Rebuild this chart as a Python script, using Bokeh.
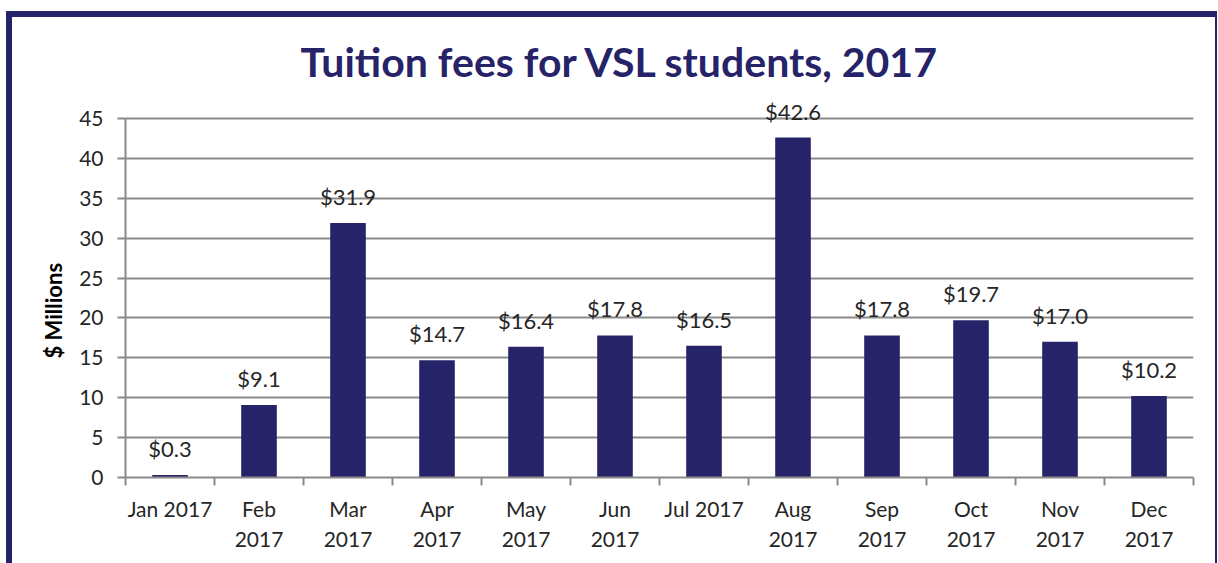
from bokeh.plotting import figure
from bokeh.models import ColumnDataSource, Range1d, FixedTicker, LabelSet, Column, Title
from bokeh.core.properties import value
from bokeh.embed import file_html
from bokeh.resources import INLINE

# ---- data ----
months = ["Jan 2017", "Feb\n2017", "Mar\n2017", "Apr\n2017", "May\n2017", "Jun\n2017",
          "Jul 2017", "Aug\n2017", "Sep\n2017", "Oct\n2017", "Nov\n2017", "Dec\n2017"]
values = [0.3, 9.1, 31.9, 14.7, 16.4, 17.8, 16.5, 42.6, 17.8, 19.7, 17.0, 10.2]
y_ticks = [0, 5, 10, 15, 20, 25, 30, 35, 40, 45]
title_text = "Tuition fees for VSL students, 2017"
y_label = "$ Millions"

NAVY = "#262368"
GRID = "#8a8a8a"
TXT = "#262626"
FONT = "Lato"

# wrapper offset (outer frame drawn with CSS)
OX, OY = 12, 17
W, H = 1218 - OX - 3, 563 - OY
# frame edges in canvas px
FL, FR, FB = 125, 1193, 477
PX_PER_UNIT = (477 - 118) / 45.0
Y_END = 48
FT = FB - Y_END * PX_PER_UNIT

centers = [i + 0.5 for i in range(len(values))]
bounds = list(range(len(values) + 1))
src = ColumnDataSource(dict(x=centers, top=values,
                            lab=["$%.1f" % v for v in values]))

p = figure(width=W, height=H, output_backend="svg", toolbar_location=None,
           x_range=Range1d(0, len(values)), y_range=Range1d(0, Y_END),
           min_border_left=FL - OX, min_border_right=W - (FR - OX),
           min_border_top=int(round(FT - OY)), min_border_bottom=H - (FB - OY))
p.background_fill_color = "white"
p.border_fill_color = "white"
p.outline_line_color = None

p.title.text = title_text
p.title.align = "left"
p.title.offset = 300 - FL
p.title.text_font = FONT
p.title.text_font_style = "bold"
p.title.text_font_size = "41px"
p.title.text_color = NAVY
p.title.standoff = 17

p.vbar(x="x", top="top", width=0.4, bottom=0, source=src, fill_color=NAVY,
       line_color=None)

p.add_layout(LabelSet(x="x", y="top", text="lab", source=src, y_offset=13,
                      text_align="center", text_baseline="bottom",
                      text_font=value(FONT), text_font_size="22px", text_color=TXT))

# y axis
ya = p.yaxis[0]
ya.ticker = FixedTicker(ticks=y_ticks)
ya.bounds = (0, 45)
ya.axis_line_color = GRID
ya.axis_line_width = 2
ya.major_tick_line_color = GRID
ya.major_tick_line_width = 2
ya.major_tick_out = 8
ya.major_tick_in = 0
ya.minor_tick_line_color = None
ya.major_label_standoff = 14
ya.major_label_text_font = FONT
ya.major_label_text_font_size = "21px"
ya.major_label_text_color = TXT

# y-axis title as a side Title so it can be positioned along the axis
p.add_layout(Title(text=y_label, align="left", offset=FB - 358, standoff=20,
                   text_font=FONT, text_font_style="bold", text_font_size="22px",
                   text_color="black"), "left")

p.ygrid.ticker = FixedTicker(ticks=y_ticks)
p.ygrid.grid_line_color = GRID
p.ygrid.grid_line_width = 2
p.xgrid.visible = False

# x axis: labels at centres, tick marks at boundaries (minor ticks)
xa = p.xaxis[0]
xa.ticker = FixedTicker(ticks=centers, minor_ticks=bounds)
xa.major_label_overrides = {c: m for c, m in zip(centers, months)}
xa.axis_line_color = GRID
xa.axis_line_width = 2
xa.major_tick_line_color = None
xa.major_tick_out = 0
xa.major_tick_in = 0
xa.minor_tick_line_color = GRID
xa.minor_tick_line_width = 2
xa.minor_tick_out = 8
xa.minor_tick_in = 0
xa.major_label_standoff = 10
xa.major_label_text_font = FONT
xa.major_label_text_font_size = "21px"
xa.major_label_text_color = TXT

layout = Column(p, styles={
    "margin-left": "6px", "margin-top": "11px",
    "border-left": "6px solid " + NAVY,
    "border-top": "6px solid " + NAVY,
    "border-right": "2px solid " + NAVY,
    "background-color": "white",
})

open("out.html", "w").write(file_html(layout, INLINE))
